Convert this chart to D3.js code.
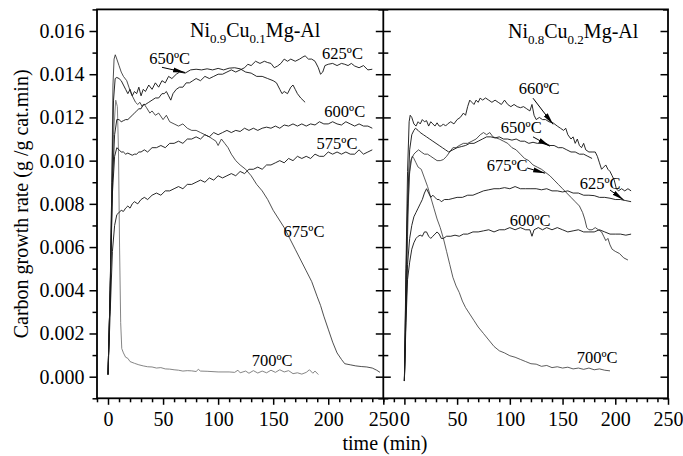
<!DOCTYPE html>
<html>
<head>
<meta charset="utf-8">
<script src="https://cdn.jsdelivr.net/npm/d3@7"></script>
<style>
  body { margin: 0; background: #fff; }
  svg text { font-family: "Liberation Serif", "Times New Roman", Times, serif; fill: #000; }
</style>
</head>
<body>
<svg id="chart" width="683" height="456"></svg>
<script>
// ---- tick values ----
const timeTicks = [0, 50, 100, 150, 200, 250];
const rateTicks = [0, 0.002, 0.004, 0.006, 0.008, 0.010, 0.012, 0.014, 0.016];

// ---- Ni0.9Cu0.1Mg-Al : [time (min), rate (g/g cat.min)] ----
const a575 = [[0,0.0001],[2,0.003],[4,0.0058],[6,0.0070],[8,0.0075],[10,0.0076],[12,0.0077],[14,0.00765],[16,0.0078],[18,0.0079],[20,0.0078],[22,0.0080],[24,0.0081],[27,0.0080],[30,0.0082],[33,0.0083],[36,0.0082],[40,0.0084],[44,0.0085],[48,0.0084],[52,0.0086],[56,0.0086],[60,0.0087],[64,0.0088],[68,0.0087],[72,0.0089],[76,0.0089],[80,0.0090],[84,0.0091],[88,0.0090],[92,0.0092],[96,0.0091],[100,0.0093],[104,0.0092],[108,0.0093],[112,0.0094],[116,0.0093],[120,0.0095],[124,0.0094],[128,0.0096],[132,0.0096],[136,0.0097],[140,0.0096],[144,0.0098],[148,0.0098],[152,0.0099],[156,0.0100],[160,0.0099],[164,0.0101],[168,0.0100],[172,0.0102],[176,0.0101],[180,0.0102],[184,0.0101],[188,0.0103],[192,0.0102],[196,0.0102],[200,0.0104],[204,0.0103],[208,0.0104],[212,0.0103],[216,0.0104],[220,0.0103],[224,0.0103],[228,0.0105],[232,0.0103],[236,0.0104],[240,0.0105]];
const a600 = [[0,0.0001],[2,0.004],[4,0.0085],[6,0.0102],[8,0.0106],[10,0.0105],[12,0.0104],[14,0.0104],[16,0.0103],[18,0.01035],[20,0.0103],[22,0.01025],[24,0.0103],[26,0.0103],[28,0.0104],[30,0.0104],[33,0.0105],[36,0.0104],[40,0.0106],[44,0.0106],[48,0.0107],[52,0.0106],[56,0.0108],[60,0.0108],[64,0.0109],[68,0.0108],[72,0.0110],[76,0.0110],[80,0.0111],[84,0.0110],[88,0.0112],[92,0.0111],[96,0.0113],[100,0.0112],[104,0.0113],[108,0.0114],[112,0.0113],[116,0.0114],[120,0.01135],[124,0.0115],[128,0.0114],[132,0.0115],[136,0.0114],[140,0.0115],[144,0.01155],[148,0.0115],[152,0.0116],[156,0.0115],[160,0.01165],[164,0.0116],[168,0.0117],[172,0.0116],[176,0.0117],[180,0.0116],[184,0.0117],[188,0.01165],[192,0.0118],[196,0.0117],[200,0.0117],[204,0.0118],[208,0.0117],[212,0.01165],[216,0.0118],[220,0.0117],[224,0.0116],[228,0.0117],[232,0.0116],[236,0.0116],[240,0.0115]];
const a625 = [[0,0.0001],[2,0.004],[4,0.009],[6,0.0112],[8,0.0119],[10,0.0119],[12,0.0118],[14,0.01185],[16,0.0119],[18,0.0119],[20,0.0120],[22,0.0121],[24,0.0122],[26,0.0123],[28,0.0124],[30,0.0124],[32,0.0126],[34,0.0126],[37,0.0127],[40,0.0128],[43,0.0129],[46,0.0129],[49,0.0131],[51,0.0131],[53,0.0132],[55,0.0130],[57,0.0128],[59,0.0131],[62,0.0133],[65,0.0134],[68,0.0134],[71,0.0136],[74,0.0136],[77,0.0137],[80,0.0138],[84,0.0137],[88,0.0139],[92,0.0138],[96,0.0139],[100,0.0140],[104,0.0140],[108,0.0141],[112,0.0142],[116,0.0141],[120,0.0142],[124,0.0143],[127,0.01446],[130,0.0144],[134,0.0146],[138,0.0145],[142,0.0146],[145,0.01454],[148,0.0145],[151,0.0143],[154,0.01438],[157,0.0145],[160,0.0147],[163,0.0146],[166,0.0147],[170,0.0146],[174,0.0147],[177,0.0148],[179,0.01485],[182,0.0147],[185,0.0147],[188,0.0146],[191,0.0143],[193,0.0140],[195,0.0141],[197,0.0144],[200,0.01446],[204,0.0145],[208,0.0144],[212,0.0145],[215,0.01446],[218,0.0144],[221,0.0145],[224,0.01438],[228,0.0143],[232,0.0144],[236,0.0142],[240,0.01423]];
const a650 = [[0,0.0001],[2,0.004],[3.5,0.009],[5,0.0128],[6.5,0.0138],[8,0.01385],[10,0.0138],[12,0.0137],[14,0.0135],[16,0.0133],[18,0.0131],[20,0.0133],[22,0.0130],[24,0.0132],[26,0.0131],[28,0.0134],[30,0.0130],[32,0.0133],[34,0.0132],[37,0.0135],[40,0.0133],[43,0.0136],[46,0.0134],[49,0.0137],[52,0.0136],[55,0.0139],[58,0.0138],[62,0.0140],[65,0.0141],[70,0.01405],[75,0.0142],[80,0.01423],[85,0.0142],[90,0.01425],[95,0.0142],[100,0.01427],[105,0.0142],[110,0.01428],[115,0.0143],[120,0.01425],[125,0.0141],[130,0.01405],[135,0.0139],[140,0.0139],[145,0.0138],[150,0.0137],[153,0.0136],[156,0.0133],[158,0.0131],[160,0.0132],[163,0.0131],[166,0.0134],[168,0.0135],[170,0.0133],[172,0.0131],[175,0.0129],[179,0.0127]];
const a675 = [[0,0.0001],[2,0.004],[3.5,0.009],[4.5,0.0135],[5.5,0.0147],[6.6,0.0149],[8,0.0147],[10,0.0144],[12,0.0141],[14,0.0139],[17,0.0137],[19,0.0134],[21,0.0131],[23,0.0129],[25,0.0127],[27,0.0126],[29,0.0127],[31,0.0125],[33,0.0126],[35,0.01245],[38,0.0122],[40,0.0123],[43,0.0121],[46,0.0122],[50,0.0119],[53,0.0121],[56,0.0118],[60,0.0117],[64,0.0116],[68,0.0117],[72,0.0115],[76,0.0114],[80,0.0114],[84,0.0113],[88,0.0112],[92,0.0111],[95,0.0110],[98,0.0109],[100,0.0107],[103,0.0110],[106,0.0108],[109,0.0106],[112,0.0103],[116,0.0100],[120,0.0098],[125,0.0096],[130,0.0093],[135,0.0089],[140,0.0086],[145,0.0082],[150,0.0077],[155,0.0073],[160,0.0069],[165,0.0064],[170,0.0059],[175,0.0054],[180,0.0049],[185,0.0044],[190,0.0037],[193,0.0033],[196,0.0028],[200,0.0022],[204,0.0016],[208,0.0011],[212,0.0008],[215,0.0006],[220,0.00055],[225,0.0005],[230,0.00047],[235,0.00045],[240,0.0004],[244,0.0003],[247,0.0002]];
const a700 = [[0,0.0001],[1.5,0.003],[3,0.007],[5,0.0112],[7,0.0128],[8.5,0.0125],[9.5,0.0105],[10.5,0.006],[11.5,0.0025],[12.5,0.0013],[14,0.0011],[16,0.0009],[18,0.00085],[20,0.0007],[24,0.00062],[28,0.00055],[32,0.0005],[36,0.00046],[40,0.00045],[44,0.0004],[48,0.00042],[52,0.00036],[56,0.00035],[60,0.00032],[64,0.0003],[68,0.00026],[72,0.00028],[76,0.00027],[80,0.00024],[82,0.00034],[84,0.00026],[90,0.00025],[100,0.00022],[110,0.00022],[115,0.0002],[118,0.0003],[120,0.00018],[125,0.00026],[128,0.00016],[132,0.00028],[136,0.00017],[140,0.00026],[144,0.00018],[148,0.0003],[152,0.0002],[156,0.00032],[160,0.00022],[164,0.00028],[168,0.00014],[172,0.00018],[176,0.00012],[180,0.0002],[183,0.00032],[186,0.00016],[188,0.00026],[191,0.0001]];

// ---- Ni0.8Cu0.2Mg-Al ----
const b600 = [[0,-0.0002],[1.5,0.0025],[3,0.0045],[5,0.0053],[7,0.0059],[9,0.0062],[11,0.0064],[13,0.0065],[15,0.00655],[17,0.0065],[19,0.0067],[21,0.0067],[23,0.0065],[25,0.0064],[27,0.0065],[29,0.0066],[31,0.0067],[33,0.0066],[35,0.0064],[37,0.0064],[40,0.0065],[44,0.0065],[48,0.00655],[52,0.0065],[56,0.0066],[60,0.0066],[65,0.0067],[70,0.0067],[75,0.00675],[80,0.0068],[85,0.0067],[90,0.0068],[95,0.0068],[100,0.0069],[105,0.0068],[110,0.0069],[115,0.0068],[119,0.0068],[121,0.0065],[123,0.0068],[127,0.0069],[131,0.0068],[135,0.0069],[140,0.0068],[145,0.0069],[150,0.0068],[155,0.0067],[160,0.00675],[165,0.0068],[170,0.0067],[175,0.0067],[180,0.0067],[185,0.0068],[190,0.0067],[195,0.0066],[200,0.0066],[205,0.0066],[210,0.00655],[215,0.0066]];
const b625 = [[0,-0.0002],[1.5,0.003],[3,0.0052],[5,0.0064],[7,0.0070],[9,0.0074],[11,0.0076],[13,0.0078],[15,0.0080],[17,0.0082],[19,0.0085],[21,0.0087],[23,0.0085],[25,0.0083],[27,0.0084],[29,0.0083],[31,0.0082],[33,0.0082],[35,0.0081],[38,0.0082],[42,0.0082],[46,0.00825],[50,0.0083],[55,0.0083],[60,0.0084],[65,0.0084],[70,0.0085],[75,0.0086],[80,0.00865],[85,0.0087],[90,0.0087],[95,0.00875],[100,0.0087],[105,0.0088],[110,0.0087],[115,0.0087],[120,0.0087],[125,0.0087],[130,0.00865],[135,0.0087],[140,0.0086],[145,0.0086],[150,0.00855],[155,0.0086],[160,0.0085],[165,0.0085],[170,0.0084],[175,0.0084],[180,0.00838],[185,0.0083],[190,0.0083],[195,0.00826],[200,0.0082],[205,0.0082],[210,0.00815],[215,0.0081]];
const b650 = [[0,-0.0002],[1.5,0.0045],[3,0.008],[5,0.0105],[7,0.0112],[9,0.0114],[10.5,0.0115],[13,0.0114],[15,0.0113],[18,0.0112],[21,0.0111],[24,0.0110],[27,0.0109],[30,0.0108],[33,0.0107],[36,0.0106],[39,0.0105],[42,0.0104],[46,0.0105],[50,0.0106],[54,0.01065],[58,0.0107],[62,0.0108],[66,0.0108],[70,0.0109],[74,0.0110],[78,0.0111],[82,0.0111],[86,0.01105],[90,0.0111],[94,0.0110],[98,0.0110],[102,0.01095],[106,0.0110],[110,0.0109],[114,0.0109],[118,0.0108],[122,0.01085],[126,0.0108],[130,0.0108],[134,0.0108],[138,0.0107],[142,0.0107],[146,0.0106],[150,0.0106],[154,0.0105],[158,0.0104],[162,0.0104],[166,0.0103],[170,0.0103],[174,0.0102],[178,0.0101]];
const b660 = [[0,-0.0002],[1.5,0.005],[3,0.0095],[4.5,0.0118],[5.5,0.0121],[7,0.0120],[9,0.0117],[11,0.0116],[13,0.0118],[15,0.0117],[17,0.0119],[19,0.0118],[21,0.01185],[23,0.0116],[25,0.0118],[27,0.0117],[29,0.0116],[31,0.01175],[33,0.0116],[35,0.0116],[37,0.0117],[39,0.0116],[41,0.0117],[44,0.0118],[47,0.0117],[50,0.0119],[53,0.0120],[56,0.0122],[58,0.0121],[60,0.0125],[62,0.0128],[64,0.0127],[66,0.0126],[68,0.0128],[70,0.0127],[72,0.0129],[74,0.0128],[77,0.0129],[80,0.0128],[83,0.0127],[86,0.0128],[89,0.0127],[92,0.0126],[95,0.0128],[98,0.0126],[101,0.0125],[104,0.0126],[107,0.0125],[110,0.01245],[113,0.0125],[116,0.0124],[119,0.0123],[121,0.0126],[123,0.0121],[125,0.0119],[128,0.0120],[131,0.0119],[134,0.0119],[137,0.0118],[141,0.01175],[145,0.0116],[148,0.0115],[151,0.0114],[153,0.0115],[155,0.0112],[158,0.0110],[160,0.0111],[162,0.0108],[164,0.0110],[166,0.0107],[168,0.0106],[170,0.0108],[172,0.0105],[175,0.0104],[178,0.0104],[181,0.0104],[183,0.0102],[185,0.0099],[187,0.0096],[189,0.0097],[191,0.0098],[193,0.0096],[195,0.0095],[197,0.0093],[199,0.0091],[201,0.0087],[203,0.0086],[206,0.0087],[209,0.0086],[212,0.0087],[215,0.0086]];
const b675 = [[0,-0.0002],[1.5,0.004],[3,0.0075],[5,0.0095],[7,0.0101],[9,0.0103],[11,0.0104],[13.5,0.0105],[16,0.0104],[19,0.0103],[22,0.0103],[25,0.0102],[28,0.0101],[31,0.0100],[34,0.0100],[37,0.01005],[40,0.0102],[43,0.0104],[46,0.0106],[49,0.0106],[52,0.0107],[56,0.0108],[60,0.0108],[64,0.0109],[68,0.0110],[72,0.0112],[75,0.0113],[78,0.0112],[81,0.0113],[84,0.0111],[87,0.01105],[90,0.0110],[94,0.0109],[98,0.0108],[102,0.0106],[106,0.0105],[110,0.0103],[114,0.0101],[118,0.0100],[122,0.0098],[126,0.0097],[130,0.0096],[134,0.00945],[138,0.0093],[142,0.0091],[146,0.0089],[150,0.0087],[154,0.0085],[158,0.0083],[162,0.0081],[166,0.0079],[169,0.0076],[171,0.0073],[173,0.0069],[175,0.0068],[178,0.0068],[181,0.0069],[184,0.0068],[187,0.0067],[189,0.0065],[191,0.0063],[193,0.0064],[195,0.0061],[197,0.0059],[200,0.0058],[204,0.0057],[208,0.0055],[212,0.0054]];
const b700 = [[0,-0.0002],[1.5,0.003],[3,0.0065],[4.5,0.0092],[6,0.0100],[7.5,0.0102],[9,0.0101],[11,0.0099],[13,0.0097],[16,0.0096],[19,0.0092],[22,0.0088],[25,0.0083],[28,0.0078],[31,0.0073],[34,0.0069],[37,0.0064],[40,0.0058],[43,0.0052],[46,0.0046],[49,0.0042],[52,0.0039],[55,0.0035],[58,0.0032],[62,0.0029],[66,0.0026],[70,0.0023],[75,0.0020],[80,0.0017],[85,0.0014],[90,0.0012],[95,0.0011],[100,0.00097],[105,0.0009],[110,0.0008],[115,0.0007],[120,0.0006],[125,0.00058],[130,0.00048],[135,0.00052],[140,0.00042],[145,0.00046],[150,0.0004],[155,0.00044],[160,0.00036],[165,0.0004],[170,0.00034],[175,0.0004],[180,0.00032],[185,0.00036],[190,0.0003],[195,0.00027]];

// ---- temperature annotations (time, rate); arrows run from -> to ----
const notesA = [
  { text: "650ºC", at: [56, 0.01445], from: [49, 0.01432], to: [70, 0.01408] },
  { text: "625ºC", at: [213, 0.0147] },
  { text: "600ºC", at: [215, 0.01202] },
  { text: "575ºC", at: [208, 0.01054] },
  { text: "675ºC", at: [178, 0.00647] },
  { text: "700ºC", at: [149, 0.0005] }
];
const notesB = [
  { text: "660ºC", at: [127.8, 0.01308], from: [122, 0.01289], to: [141, 0.01168] },
  { text: "650ºC", at: [110.8, 0.01128], from: [122, 0.0111], to: [138, 0.01067] },
  { text: "675ºC", at: [97.5, 0.00952], from: [116.4, 0.00966], to: [133.5, 0.00942] },
  { text: "625ºC", at: [185.6, 0.00869], from: [195, 0.00864], to: [208, 0.00818] },
  { text: "600ºC", at: [119.3, 0.00697] },
  { text: "700ºC", at: [182.8, 0.00063] }
];

// ---- layout ----
const svg = d3.select("#chart");
const pTop = 9.4, pBottom = 398.3, pLeft = 97, pMid = 383.3, pRight = 668;
const y = d3.scaleLinear().domain([-0.001, 0.017]).range([pBottom, pTop]);
const xA = d3.scaleLinear().domain([-10, 250]).range([pLeft, pMid]);
const xB = d3.scaleLinear().domain([-20, 250]).range([pMid, pRight]);

svg.append("defs").append("marker")
  .attr("id", "head").attr("viewBox", "0 0 12 6").attr("refX", 12).attr("refY", 3)
  .attr("markerWidth", 12).attr("markerHeight", 6).attr("markerUnits", "userSpaceOnUse")
  .attr("orient", "auto")
  .append("path").attr("d", "M0,0.6 L12,3 L0,5.4 Z").attr("fill", "#000");

function drawPanel(x, series, notes, titleParts, titleX, titleY) {
  const g = svg.append("g");
  const line = d3.line().x(d => x(d[0])).y(d => y(d[1]));
  series.forEach(s => {
    g.append("path").datum(s.data).attr("d", line)
      .attr("fill", "none").attr("stroke", s.color).attr("stroke-width", s.width)
      .attr("stroke-linejoin", "round");
  });
  notes.forEach(n => {
    g.append("text").attr("x", x(n.at[0])).attr("y", y(n.at[1]))
      .attr("text-anchor", "middle").attr("font-size", 16.5).text(n.text);
    if (n.from) {
      g.append("line")
        .attr("x1", x(n.from[0])).attr("y1", y(n.from[1]))
        .attr("x2", x(n.to[0])).attr("y2", y(n.to[1]))
        .attr("stroke", "#000").attr("stroke-width", 1)
        .attr("marker-end", "url(#head)");
    }
  });
  const t = svg.append("text").attr("x", titleX).attr("y", titleY).attr("font-size", 20);
  titleParts.forEach(p => {
    if (p.sub) {
      t.append("tspan").attr("font-size", 13).attr("dy", 6).text(p.sub);
    } else {
      t.append("tspan").attr("dy", p.after ? -6 : 0).text(p.main);
    }
  });
}

drawPanel(xA, [
  { data: a700, color: "#777", width: 0.9 },
  { data: a575, color: "#111", width: 0.9 },
  { data: a600, color: "#111", width: 0.9 },
  { data: a625, color: "#111", width: 0.9 },
  { data: a650, color: "#111", width: 0.9 },
  { data: a675, color: "#222", width: 0.8 }
], notesA, [{ main: "Ni" }, { sub: "0.9" }, { main: "Cu", after: true }, { sub: "0.1" }, { main: "Mg-Al", after: true }], 190, 37);

drawPanel(xB, [
  { data: b700, color: "#333", width: 0.8 },
  { data: b600, color: "#111", width: 0.9 },
  { data: b625, color: "#111", width: 0.9 },
  { data: b650, color: "#111", width: 0.9 },
  { data: b660, color: "#111", width: 0.9 },
  { data: b675, color: "#222", width: 0.8 }
], notesB, [{ main: "Ni" }, { sub: "0.8" }, { main: "Cu", after: true }, { sub: "0.2" }, { main: "Mg-Al", after: true }], 508, 38);

// ---- axes ----
const minorRate = d3.range(-0.001, 0.0171, 0.001).map(v => +v.toFixed(3)).filter(v => !rateTicks.includes(v));
const minorTimeA = d3.range(-10, 251, 10).filter(v => !timeTicks.includes(v));
const minorTimeB = d3.range(-20, 251, 10).filter(v => !timeTicks.includes(v));

function styleAxis(sel) {
  sel.select(".domain").remove();
  sel.selectAll("line").attr("stroke", "#000").attr("stroke-width", 1.5);
  sel.selectAll("text").attr("font-size", 20).attr("font-family", "Liberation Serif, Times New Roman, serif");
}

// bottom axes
[[xA, minorTimeA], [xB, minorTimeB]].forEach(([x, minor]) => {
  svg.append("g").attr("transform", `translate(0,${pBottom})`)
    .call(d3.axisBottom(x).tickValues(timeTicks).tickSize(6.5).tickPadding(7).tickFormat(d3.format("d")))
    .call(styleAxis);
  svg.append("g").attr("transform", `translate(0,${pBottom})`)
    .call(d3.axisBottom(x).tickValues(minor).tickSize(4).tickFormat(""))
    .call(styleAxis);
});

// left axis
svg.append("g").attr("transform", `translate(${pLeft},0)`)
  .call(d3.axisLeft(y).tickValues(rateTicks).tickSize(7.5).tickPadding(5).tickFormat(d3.format(".3f")))
  .call(styleAxis);
svg.append("g").attr("transform", `translate(${pLeft},0)`)
  .call(d3.axisLeft(y).tickValues(minorRate).tickSize(4.5).tickFormat(""))
  .call(styleAxis);

// shared divider: ticks on both sides
[d3.axisLeft, d3.axisRight].forEach(ax => {
  svg.append("g").attr("transform", `translate(${pMid},0)`)
    .call(ax(y).tickValues(rateTicks).tickSize(7.5).tickFormat(""))
    .call(styleAxis);
  svg.append("g").attr("transform", `translate(${pMid},0)`)
    .call(ax(y).tickValues(minorRate).tickSize(5).tickFormat(""))
    .call(styleAxis);
});

// right edge: inward ticks
svg.append("g").attr("transform", `translate(${pRight},0)`)
  .call(d3.axisRight(y).tickValues(rateTicks).tickSize(-7.5).tickFormat(""))
  .call(styleAxis);
svg.append("g").attr("transform", `translate(${pRight},0)`)
  .call(d3.axisRight(y).tickValues(minorRate).tickSize(-5).tickFormat(""))
  .call(styleAxis);

// frame
svg.append("rect").attr("x", pLeft).attr("y", pTop).attr("width", pRight - pLeft).attr("height", pBottom - pTop)
  .attr("fill", "none").attr("stroke", "#000").attr("stroke-width", 1.8);
svg.append("line").attr("x1", pMid).attr("x2", pMid).attr("y1", pTop).attr("y2", pBottom)
  .attr("stroke", "#000").attr("stroke-width", 1.8);

// axis titles
svg.append("text").attr("transform", `translate(28,${(pTop + pBottom) / 2}) rotate(-90)`)
  .attr("text-anchor", "middle").attr("font-size", 20).text("Carbon growth rate (g /g cat.min)");
svg.append("text").attr("x", 385).attr("y", 450).attr("text-anchor", "middle")
  .attr("font-size", 20).text("time (min)");
</script>
</body>
</html>
